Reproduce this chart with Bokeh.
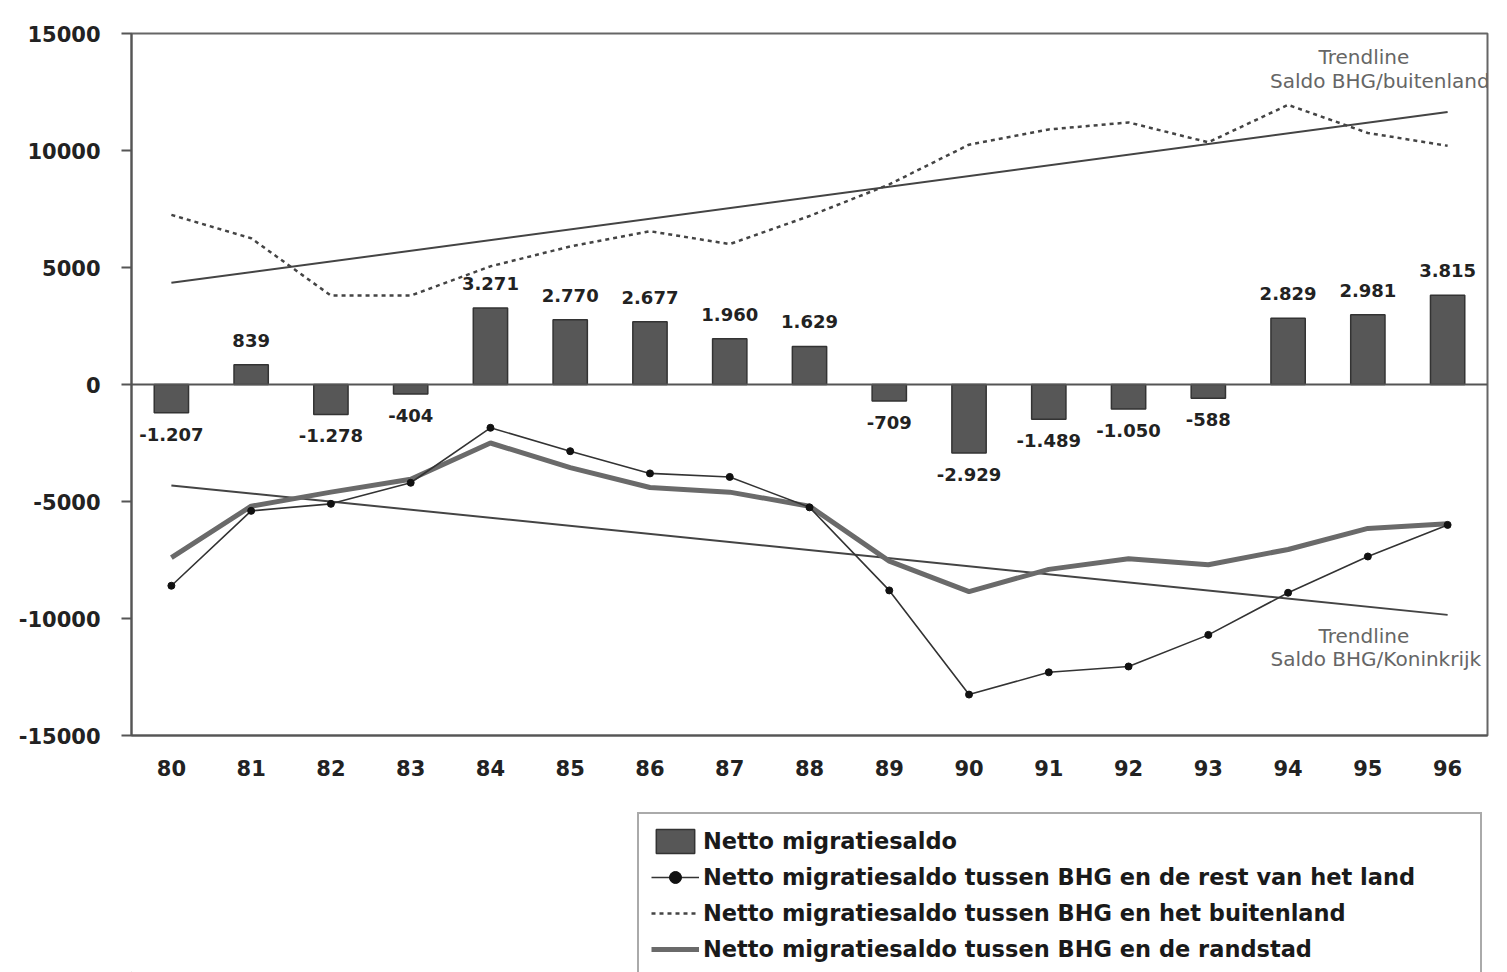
import numpy as np
from bokeh.plotting import figure
from bokeh.layouts import column
from bokeh.models import (ColumnDataSource, Range1d, FixedTicker, Legend,
                          LegendItem, Label, Span)
from bokeh.core.properties import value
from bokeh.embed import file_html
from bokeh.resources import INLINE

# ---------------- data ----------------
years = ["80", "81", "82", "83", "84", "85", "86", "87", "88",
         "89", "90", "91", "92", "93", "94", "95", "96"]
netto = [-1207, 839, -1278, -404, 3271, 2770, 2677, 1960, 1629,
         -709, -2929, -1489, -1050, -588, 2829, 2981, 3815]
rest_land = [-8600, -5400, -5100, -4200, -1850, -2850, -3800, -3950, -5250,
             -8800, -13250, -12300, -12050, -10700, -8900, -7350, -6000]
buitenland = [7250, 6250, 3800, 3800, 5050, 5900, 6550, 6000, 7200,
              8550, 10250, 10900, 11200, 10350, 11950, 10750, 10200]
randstad = [-7400, -5200, -4600, -4050, -2500, -3550, -4400, -4600, -5200,
            -7550, -8850, -7900, -7450, -7700, -7050, -6150, -5950]
y_ticks = [-15000, -10000, -5000, 0, 5000, 10000, 15000]
legend_labels = ["Netto migratiesaldo",
                 "Netto migratiesaldo tussen BHG en de rest van het land",
                 "Netto migratiesaldo tussen BHG en het buitenland",
                 "Netto migratiesaldo tussen BHG en de randstad"]

FONT = "DejaVu Sans"
BAR_FILL, BAR_LINE = "#575757", "#333333"
C_REST, C_BUIT, C_RAND, C_TREND = "#333333", "#444444", "#6a6a6a", "#444444"

p = figure(x_range=years, y_range=Range1d(-15000, 15000),
           width=1507, height=790, output_backend="svg",
           toolbar_location=None,
           min_border_left=131, min_border_right=20,
           min_border_top=33, min_border_bottom=55)
p.background_fill_color = "white"
p.border_fill_color = "white"
p.outline_line_color = "#666666"
p.outline_line_width = 2
p.xgrid.visible = False
p.ygrid.visible = False

# axes
p.yaxis.ticker = FixedTicker(ticks=y_ticks)
p.yaxis.major_label_overrides = {t: str(t) for t in y_ticks}
p.yaxis.minor_tick_line_color = None
p.yaxis.major_tick_in = 0
p.yaxis.major_tick_out = 10
p.yaxis.major_tick_line_color = "#555555"
p.yaxis.major_tick_line_width = 2
p.yaxis.axis_line_color = "#555555"
p.yaxis.axis_line_width = 2
p.yaxis.major_label_standoff = 21
for ax in (p.xaxis, p.yaxis):
    ax.major_label_text_font = FONT
    ax.major_label_text_font_style = "bold"
    ax.major_label_text_font_size = "21px"
    ax.major_label_text_color = "#222222"
p.xaxis.major_tick_line_color = None
p.xaxis.minor_tick_line_color = None
p.xaxis.axis_line_color = "#555555"
p.xaxis.axis_line_width = 2
p.xaxis.major_label_standoff = 18

# zero line
p.add_layout(Span(location=0, dimension="width", line_color="#555555",
                  line_width=2))

# bars
p.vbar(x=years, top=netto, width=0.43, fill_color=BAR_FILL,
       line_color=BAR_LINE, line_width=1.5)

# bar labels (Dutch thousands separator)
def fmt(v):
    return f"{v:,}".replace(",", ".")

pos = ColumnDataSource(dict(
    x=[y for y, v in zip(years, netto) if v >= 0],
    y=[v for v in netto if v >= 0],
    t=[fmt(v) for v in netto if v >= 0]))
neg = ColumnDataSource(dict(
    x=[y for y, v in zip(years, netto) if v < 0],
    y=[v for v in netto if v < 0],
    t=[fmt(v) for v in netto if v < 0]))
common = dict(text_font=value(FONT), text_font_style="bold",
              text_font_size="18px", text_color="#222222",
              text_align="center")
p.text(x="x", y="y", text="t", source=pos, text_baseline="bottom",
       y_offset=-18, **common)
p.text(x="x", y="y", text="t", source=neg, text_baseline="top",
       y_offset=15, **common)

# trend lines (linear regression on the series)
idx = np.arange(len(years))
kb, cb = np.polyfit(idx, buitenland, 1)
kr, cr = np.polyfit(idx, rest_land, 1)
ends = [years[0], years[-1]]
p.line(x=ends, y=[cb, cb + kb * idx[-1]], line_color=C_TREND, line_width=2)
p.line(x=ends, y=[cr, cr + kr * idx[-1]], line_color=C_TREND, line_width=2)

# series lines
p.line(x=years, y=randstad, line_color=C_RAND, line_width=5)
p.line(x=years, y=buitenland, line_color=C_BUIT, line_width=2.5,
       line_dash="4 4")
p.line(x=years, y=rest_land, line_color=C_REST, line_width=1.6)
p.scatter(x=years, y=rest_land, size=7, marker="circle",
          fill_color="#111111", line_color="#111111")

# trendline annotations
lab = dict(text_font=FONT, text_font_size="20px", text_color="#666666",
           text_align="center", text_baseline="middle")
p.add_layout(Label(x=15.45, y=14000, text="Trendline", **lab))
p.add_layout(Label(x=15.65, y=12950, text="Saldo BHG/buitenland", **lab))
p.add_layout(Label(x=15.45, y=-10750, text="Trendline", **lab))
p.add_layout(Label(x=15.6, y=-11750, text="Saldo BHG/Koninkrijk", **lab))

# ---------------- legend panel ----------------
q = figure(width=1507, height=182, x_range=Range1d(0, 1507),
           y_range=Range1d(0, 182), output_backend="svg",
           toolbar_location=None, x_axis_location=None,
           y_axis_location=None, min_border=0)
q.outline_line_color = None
q.xgrid.visible = False
q.ygrid.visible = False
q.background_fill_color = "white"
q.border_fill_color = "white"

# proxy renderers (kept outside the visible range) that only feed the legend
off = [-1000]
l_bar = q.vbar(x=off, top=off, width=1, fill_color=BAR_FILL,
               line_color=BAR_LINE, line_width=1.5)
l_rest = q.line(x=off, y=off, line_color=C_REST, line_width=1.6)
l_rest_pts = q.scatter(x=off, y=off, size=7, marker="circle",
                       fill_color="#111111", line_color="#111111")
l_buit = q.line(x=off, y=off, line_color=C_BUIT, line_width=2.5,
                line_dash="4 4")
l_rand = q.line(x=off, y=off, line_color=C_RAND, line_width=5)

legend = Legend(items=[
    LegendItem(label=legend_labels[0], renderers=[l_bar]),
    LegendItem(label=legend_labels[1], renderers=[l_rest, l_rest_pts]),
    LegendItem(label=legend_labels[2], renderers=[l_buit]),
    LegendItem(label=legend_labels[3], renderers=[l_rand]),
], location=(506, -6))
legend.label_text_font = FONT
legend.label_text_font_style = "bold"
legend.label_text_font_size = "22.5px"
legend.label_text_color = "#1a1a1a"
legend.glyph_width = 48
legend.glyph_height = 30
legend.label_height = 30
legend.label_width = 765
legend.spacing = 6
legend.padding = 12
legend.margin = 0
legend.label_standoff = 4
legend.border_line_color = "#555555"
legend.border_line_width = 2
legend.background_fill_alpha = 1
q.add_layout(legend)

open("out.html", "w").write(file_html(column(p, q, spacing=0), INLINE))
